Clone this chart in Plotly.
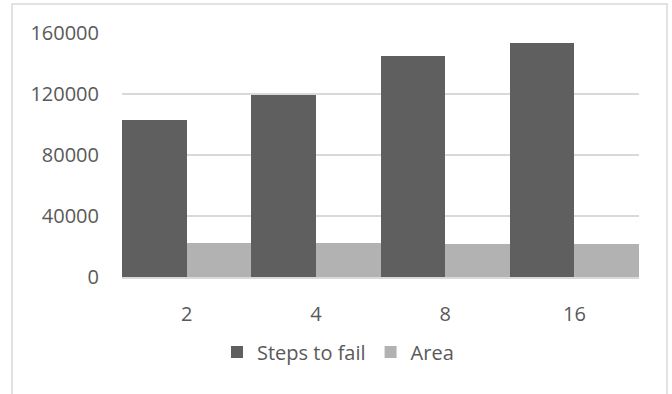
import plotly.graph_objects as go

categories = ["2", "4", "8", "16"]
steps_to_fail = [103000, 119500, 145000, 153500]
area = [22000, 22000, 21500, 21500]

font_family = "Open Sans, Liberation Sans, sans-serif"
text_color = "#595959"
grid_color = "#d9d9d9"

fig = go.Figure()
fig.add_trace(go.Bar(x=categories, y=steps_to_fail, name="Steps to fail",
                     marker=dict(color="#5f5f5f", line=dict(width=0))))
fig.add_trace(go.Bar(x=categories, y=area, name="Area",
                     marker=dict(color="#b2b2b2", line=dict(width=0))))

W, H = 672, 394
L, R, T, B = 122, 33, 33, 117
pw, ph = W - L - R, H - T - B

def px_x(x):
    return (x - L) / pw

def px_y(y):
    return (H - B - y) / ph

fig.update_layout(
    width=W, height=H,
    margin=dict(l=L, r=R, t=T, b=B, pad=0),
    paper_bgcolor="white", plot_bgcolor="white",
    barmode="group", bargap=0, bargroupgap=0,
    font=dict(family=font_family, size=20, color=text_color),
    showlegend=True,
    legend=dict(orientation="h", x=px_x(338), xanchor="center",
                y=px_y(352), yanchor="middle",
                font=dict(size=20, color=text_color),
                itemwidth=30, tracegroupgap=0, bgcolor="rgba(0,0,0,0)"),
    xaxis=dict(showgrid=False, showline=True, linecolor=grid_color, linewidth=2,
               ticks="", ticklabelstandoff=18, tickfont=dict(size=20, color=text_color)),
    yaxis=dict(range=[0, 160000], tickvals=[0, 40000, 80000, 120000, 160000],
               ticktext=["0", "40000", "80000", "120000", "160000"],
               showgrid=True, gridcolor=grid_color, gridwidth=1.5,
               zeroline=False, showline=False, ticks="", ticklabelstandoff=22,
               tickfont=dict(size=20, color=text_color)),
    shapes=[dict(type="rect", xref="paper", yref="paper",
                 x0=px_x(12), x1=px_x(667), y0=px_y(420), y1=px_y(4),
                 line=dict(color="#d9d9d9", width=1.5), layer="below")],
)

fig.write_html("out.html")
